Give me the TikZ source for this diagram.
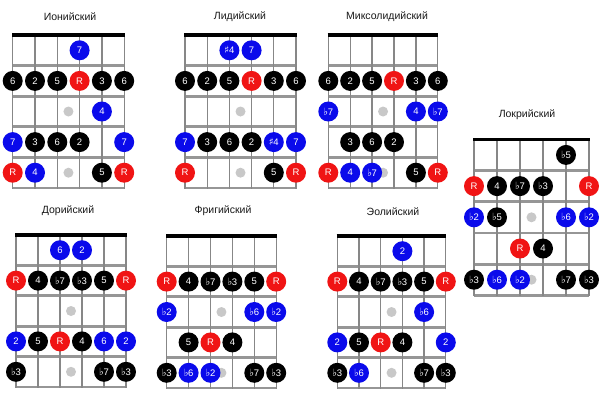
\documentclass[tikz,border=0pt]{standalone}
\usepackage{fontspec}
\setmainfont{Liberation Sans}
\newfontfamily\symf{DejaVu Sans}
\newcommand\fl{{\symf\fontsize{10}{10}\selectfont ♭}\kern-0.3pt}
\newcommand\shp{{\symf\fontsize{10}{10}\selectfont ♯}\kern-0.3pt}
\definecolor{nblue}{RGB}{10,10,235}
\definecolor{nred}{RGB}{240,20,20}
\definecolor{fretc}{RGB}{150,150,150}
\definecolor{strc}{RGB}{135,135,135}
\definecolor{markc}{RGB}{200,200,200}
\tikzset{
  fretline/.style={draw=fretc, line width=2.8pt},
  strline/.style={draw=strc, line width=1.3pt},
  nutline/.style={draw=black, line width=3.2pt},
  note/.style={circle, minimum size=20pt, inner sep=0pt, text=white, font=\fontsize{9.5}{9.5}\selectfont},
  bnote/.style={note, fill=black},
  unote/.style={note, fill=nblue},
  rnote/.style={note, fill=nred},
  marker/.style={circle, fill=markc, minimum size=10pt, inner sep=0pt},
  title/.style={font=\fontsize{10.5}{12}\selectfont, text=black!90}
}
% board: prefix
\newcommand\board[1]{%
  \foreach \f in {1,...,5} {\draw[fretline] (0,\f) -- (5,\f);}
  \foreach \s in {0,...,5} {\draw[strline] (\s,0) -- (\s,5.03);}
  \draw[nutline] (-0.03,0) -- (5.03,0);
  \node[marker] (#1-m3) at (2.5,2.5) {};
  \node[marker] (#1-m5) at (2.5,4.5) {};
}
\newcommand\nt[5]{\node[#2note] (#1-#3-#4) at (#3-1,#4-0.5) {#5};}
\begin{document}
\begin{tikzpicture}[x=1pt,y=-1pt]
\useasboundingbox[fill=white] (0,0) rectangle (600,400);
% titles
\node[title] (t-io) at (70,17) {Ионийский};
\node[title] (t-ly) at (240,17) {Лидийский};
\node[title] (t-mx) at (387,17) {Миксолидийский};
\node[title] (t-lo) at (527,115) {Локрийский};
\node[title] (t-do) at (68,211) {Дорийский};
\node[title] (t-ph) at (223,211) {Фригийский};
\node[title] (t-ae) at (393,212) {Эолийский};
% Ionian
\begin{scope}[shift={(12.7,35)}, x=22.3pt, y=-30.6pt]
\board{io}
\nt{io}{u}{4}{1}{7}
\nt{io}{b}{1}{2}{6}\nt{io}{b}{2}{2}{2}\nt{io}{b}{3}{2}{5}\nt{io}{r}{4}{2}{R}\nt{io}{b}{5}{2}{3}\nt{io}{b}{6}{2}{6}
\nt{io}{u}{5}{3}{4}
\nt{io}{u}{1}{4}{7}\nt{io}{b}{2}{4}{3}\nt{io}{b}{3}{4}{6}\nt{io}{b}{4}{4}{2}\nt{io}{u}{6}{4}{7}
\nt{io}{r}{1}{5}{R}\nt{io}{u}{2}{5}{4}\nt{io}{b}{5}{5}{5}\nt{io}{r}{6}{5}{R}
\end{scope}
% Lydian
\begin{scope}[shift={(185,35)}, x=22.2pt, y=-30.6pt]
\board{ly}
\nt{ly}{u}{3}{1}{\shp4}\nt{ly}{u}{4}{1}{7}
\nt{ly}{b}{1}{2}{6}\nt{ly}{b}{2}{2}{2}\nt{ly}{b}{3}{2}{5}\nt{ly}{r}{4}{2}{R}\nt{ly}{b}{5}{2}{3}\nt{ly}{b}{6}{2}{6}
\nt{ly}{u}{1}{4}{7}\nt{ly}{b}{2}{4}{3}\nt{ly}{b}{3}{4}{6}\nt{ly}{b}{4}{4}{2}\nt{ly}{u}{5}{4}{\shp4}\nt{ly}{u}{6}{4}{7}
\nt{ly}{r}{1}{5}{R}\nt{ly}{b}{5}{5}{5}\nt{ly}{r}{6}{5}{R}
\end{scope}
% Mixolydian
\begin{scope}[shift={(328.3,35)}, x=21.9pt, y=-30.6pt]
\board{mx}
\nt{mx}{b}{1}{2}{6}\nt{mx}{b}{2}{2}{2}\nt{mx}{b}{3}{2}{5}\nt{mx}{r}{4}{2}{R}\nt{mx}{b}{5}{2}{3}\nt{mx}{b}{6}{2}{6}
\nt{mx}{u}{1}{3}{\fl7}\nt{mx}{u}{5}{3}{4}\nt{mx}{u}{6}{3}{\fl7}
\nt{mx}{b}{2}{4}{3}\nt{mx}{b}{3}{4}{6}\nt{mx}{b}{4}{4}{2}
\nt{mx}{r}{1}{5}{R}\nt{mx}{u}{2}{5}{4}\nt{mx}{u}{3}{5}{\fl7}\nt{mx}{b}{5}{5}{5}\nt{mx}{r}{6}{5}{R}
\end{scope}
% Locrian
\begin{scope}[shift={(474,139.3)}, x=23pt, y=-31.2pt]
\board{lo}
\nt{lo}{b}{5}{1}{\fl5}
\nt{lo}{r}{1}{2}{R}\nt{lo}{b}{2}{2}{4}\nt{lo}{b}{3}{2}{\fl7}\nt{lo}{b}{4}{2}{\fl3}\nt{lo}{r}{6}{2}{R}
\nt{lo}{u}{1}{3}{\fl2}\nt{lo}{b}{2}{3}{\fl5}\nt{lo}{u}{5}{3}{\fl6}\nt{lo}{u}{6}{3}{\fl2}
\nt{lo}{r}{3}{4}{R}\nt{lo}{b}{4}{4}{4}
\nt{lo}{b}{1}{5}{\fl3}\nt{lo}{u}{2}{5}{\fl6}\nt{lo}{u}{3}{5}{\fl2}\nt{lo}{b}{5}{5}{\fl7}\nt{lo}{b}{6}{5}{\fl3}
\end{scope}
% Dorian
\begin{scope}[shift={(16,235)}, x=22pt, y=-30.4pt]
\board{do}
\nt{do}{u}{3}{1}{6}\nt{do}{u}{4}{1}{2}
\nt{do}{r}{1}{2}{R}\nt{do}{b}{2}{2}{4}\nt{do}{b}{3}{2}{\fl7}\nt{do}{b}{4}{2}{\fl3}\nt{do}{b}{5}{2}{5}\nt{do}{r}{6}{2}{R}
\nt{do}{u}{1}{4}{2}\nt{do}{b}{2}{4}{5}\nt{do}{r}{3}{4}{R}\nt{do}{b}{4}{4}{4}\nt{do}{u}{5}{4}{6}\nt{do}{u}{6}{4}{2}
\nt{do}{b}{1}{5}{\fl3}\nt{do}{b}{5}{5}{\fl7}\nt{do}{b}{6}{5}{\fl3}
\end{scope}
% Phrygian
\begin{scope}[shift={(166.7,236)}, x=21.9pt, y=-30.4pt]
\board{ph}
\nt{ph}{r}{1}{2}{R}\nt{ph}{b}{2}{2}{4}\nt{ph}{b}{3}{2}{\fl7}\nt{ph}{b}{4}{2}{\fl3}\nt{ph}{b}{5}{2}{5}\nt{ph}{r}{6}{2}{R}
\nt{ph}{u}{1}{3}{\fl2}\nt{ph}{u}{5}{3}{\fl6}\nt{ph}{u}{6}{3}{\fl2}
\nt{ph}{b}{2}{4}{5}\nt{ph}{r}{3}{4}{R}\nt{ph}{b}{4}{4}{4}
\nt{ph}{b}{1}{5}{\fl3}\nt{ph}{u}{2}{5}{\fl6}\nt{ph}{u}{3}{5}{\fl2}\nt{ph}{b}{5}{5}{\fl7}\nt{ph}{b}{6}{5}{\fl3}
\end{scope}
% Aeolian
\begin{scope}[shift={(337.3,236)}, x=21.7pt, y=-30.4pt]
\board{ae}
\nt{ae}{u}{4}{1}{2}
\nt{ae}{r}{1}{2}{R}\nt{ae}{b}{2}{2}{4}\nt{ae}{b}{3}{2}{\fl7}\nt{ae}{b}{4}{2}{\fl3}\nt{ae}{b}{5}{2}{5}\nt{ae}{r}{6}{2}{R}
\nt{ae}{u}{5}{3}{\fl6}
\nt{ae}{u}{1}{4}{2}\nt{ae}{b}{2}{4}{5}\nt{ae}{r}{3}{4}{R}\nt{ae}{b}{4}{4}{4}\nt{ae}{u}{6}{4}{2}
\nt{ae}{b}{1}{5}{\fl3}\nt{ae}{u}{2}{5}{\fl6}\nt{ae}{b}{5}{5}{\fl7}\nt{ae}{b}{6}{5}{\fl3}
\end{scope}
\end{tikzpicture}
\end{document}
